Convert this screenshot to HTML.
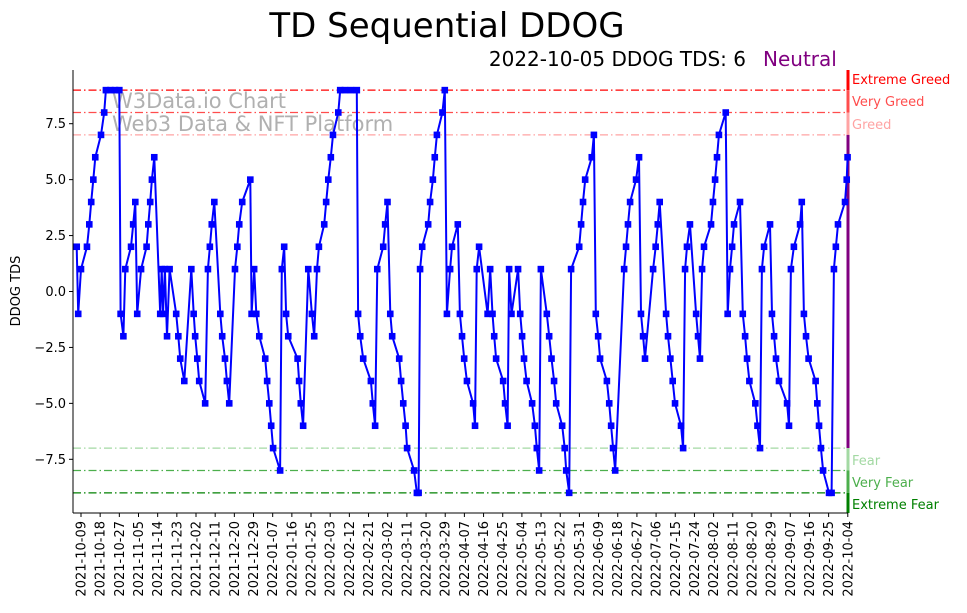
<!DOCTYPE html>
<html><head><meta charset="utf-8">
<style>
html,body{margin:0;padding:0;background:#fff;}
svg{display:block;font-family:"DejaVu Sans","Liberation Sans",sans-serif;}
</style></head>
<body>
<svg id="chart" width="967" height="613" viewBox="0 0 967 613" xmlns="http://www.w3.org/2000/svg">
  <text x="447" y="37" font-size="34" text-anchor="middle" fill="#000">TD Sequential DDOG</text>
  <text x="746" y="66" font-size="20" text-anchor="end" fill="#000">2022-10-05 DDOG TDS: 6</text>
  <text x="763" y="66" font-size="20" fill="#800080">Neutral</text>
  <text x="112" y="108" font-size="21" fill="#b0b0b0">W3Data.io Chart</text>
  <text x="112" y="131" font-size="21" fill="#b0b0b0">Web3 Data &amp; NFT Platform</text>
  <text transform="translate(20,291) rotate(-90)" font-size="13" text-anchor="middle" fill="#000">DDOG TDS</text>
  <g id="levels"></g>
  <g id="series"></g>
  <g id="axes"></g>
</svg>
<script>
const days = [-2.0,-1.3,0,2.8,3.9,4.8,5.8,6.7,9.4,10.9,11.7,13.8,16.0,18.0,18.6,19.9,20.8,23.5,24.5,25.5,26.4,28.2,30.8,31.6,32.5,33.3,34.4,37.2,37.9,38.5,39.4,40.4,41.6,44.7,45.7,46.6,48.5,51.8,52.9,53.6,54.6,55.5,58.3,59.6,60.5,61.4,62.6,65.4,66.3,67.6,68.5,69.6,72.3,73.4,74.3,75.7,79.5,80.1,81.3,82.3,83.7,86.5,87.4,88.4,89.3,90.2,93.5,94.3,95.4,96.3,97.3,101.7,102.4,103.2,104.3,106.7,108.4,109.5,110.8,111.7,114.2,115.1,116.1,117.3,118.3,120.8,121.7,123.9,126.7,129.5,130.1,131.1,132.5,136.1,137.0,138.1,139.1,141.9,142.8,143.9,145.2,146.1,149.4,150.3,151.3,152.4,153.1,156.4,157.7,158.5,159.2,160.2,163.0,163.9,165.2,166.1,167.1,169.7,170.8,171.8,173.3,174.2,176.9,177.9,178.9,179.9,181.2,184.1,185.0,185.8,186.9,190.9,192.1,193.2,194.0,194.9,198.2,199.1,200.3,201.0,202.1,205.2,206.2,207.1,208.0,209.2,211.8,213.1,214.0,215.1,215.9,218.7,219.8,220.9,222.1,223.1,225.9,227.1,227.8,229.2,230.1,233.9,234.8,235.7,236.7,239.8,240.8,241.7,242.8,243.7,246.9,248.0,248.9,249.8,250.8,255.0,255.9,256.8,257.8,260.6,262.0,262.9,263.9,264.8,268.6,269.8,270.8,271.7,274.7,275.6,276.7,277.8,278.9,281.7,282.7,283.6,284.5,285.9,288.8,289.7,290.6,291.6,292.5,295.8,296.7,297.7,298.6,299.5,302.7,303.6,304.7,305.7,306.6,309.4,310.7,311.8,312.7,313.8,316.6,317.6,318.8,319.7,320.7,323.5,324.4,325.4,326.3,327.7,331.5,332.4,333.3,334.7,337.6,338.4,339.4,340.4,341.6,344.9,345.7,346.5,347.4,348.4,351.2,352.4,353.5,354.4,355.4,358.7,359.5,359.9];
const tds = [2,-1,1,2,3,4,5,6,7,8,9,9,9,9,-1,-2,1,2,3,4,-1,1,2,3,4,5,6,-1,1,-1,1,-2,1,-1,-2,-3,-4,1,-1,-2,-3,-4,-5,1,2,3,4,-1,-2,-3,-4,-5,1,2,3,4,5,-1,1,-1,-2,-3,-4,-5,-6,-7,-8,1,2,-1,-2,-3,-4,-5,-6,1,-1,-2,1,2,3,4,5,6,7,8,9,9,9,9,-1,-2,-3,-4,-5,-6,1,2,3,4,-1,-2,-3,-4,-5,-6,-7,-8,-9,-9,1,2,3,4,5,6,7,8,9,-1,1,2,3,-1,-2,-3,-4,-5,-6,1,2,-1,1,-1,-2,-3,-4,-5,-6,1,-1,1,-1,-2,-3,-4,-5,-6,-7,-8,1,-1,-2,-3,-4,-5,-6,-7,-8,-9,1,2,3,4,5,6,7,-1,-2,-3,-4,-5,-6,-7,-8,1,2,3,4,5,6,-1,-2,-3,1,2,3,4,-1,-2,-3,-4,-5,-6,-7,1,2,3,-1,-2,-3,1,2,3,4,5,6,7,8,-1,1,2,3,4,-1,-2,-3,-4,-5,-6,-7,1,2,3,-1,-2,-3,-4,-5,-6,1,2,3,4,-1,-2,-3,-4,-5,-6,-7,-8,-9,-9,1,2,3,4,5,6];
const yTicks = [-7.5,-5.0,-2.5,0.0,2.5,5.0,7.5];
const yTickLabels = ["−7.5","−5.0","−2.5","0.0","2.5","5.0","7.5"];
const xTickLabels = ["2021-10-09","2021-10-18","2021-10-27","2021-11-05","2021-11-14","2021-11-23","2021-12-02","2021-12-11","2021-12-20","2021-12-29","2022-01-07","2022-01-16","2022-01-25","2022-02-03","2022-02-12","2022-02-21","2022-03-02","2022-03-11","2022-03-20","2022-03-29","2022-04-07","2022-04-16","2022-04-25","2022-05-04","2022-05-13","2022-05-22","2022-05-31","2022-06-09","2022-06-18","2022-06-27","2022-07-06","2022-07-15","2022-07-24","2022-08-02","2022-08-11","2022-08-20","2022-08-29","2022-09-07","2022-09-16","2022-09-25","2022-10-04"];
const levelValues = [9,8,7,-7,-8,-9];
const levelNames = ["Extreme Greed","Very Greed","Greed","Fear","Very Fear","Extreme Fear"];
const levelColors = ["#ff0000","#ff4d4d","#ffa3a3","#a3d9a3","#4caf4c","#008000"];

const NS = "http://www.w3.org/2000/svg";
const L = 73, R = 848, T = 70, B = 513;
const dMin = -3.75, dMax = 360.1, vMin = -9.9, vMax = 9.9;
const xs = d => L + (d - dMin) / (dMax - dMin) * (R - L);
const ys = v => B - (v - vMin) / (vMax - vMin) * (B - T);
function mk(tag, attrs, parent){ const e=document.createElementNS(NS,tag); for(const k in attrs) e.setAttribute(k,attrs[k]); parent.appendChild(e); return e; }

const levels = document.getElementById('levels');
levelValues.forEach((v,i)=>{
  const ln = mk('line',{x1:L,x2:R,y1:ys(v),y2:ys(v),stroke:levelColors[i],'stroke-width':1.2,'stroke-dasharray':'8,3,1.5,3'},levels);
  
  
});
// right side zone bar
const zones = [[vMax,9,"#ff0000"],[9,8,"#ff4d4d"],[8,7,"#ffa3a3"],[7,-7,"#800080"],[-7,-8,"#a3d9a3"],[-8,-9,"#4caf4c"],[-9,vMin,"#008000"]];
zones.forEach(z=>{
  const r = mk('rect',{x:R-1.5,y:ys(z[0]),width:3,height:ys(z[1])-ys(z[0]),fill:z[2]},levels);
  
  
});
const labelY = [79,101,124,460,482,504];
levelNames.forEach((n,i)=>{
  const t = mk('text',{x:852,y:labelY[i]+5,'font-size':13,fill:levelColors[i]},levels);
  t.textContent = n;
  
  
});

const series = document.getElementById('series');
const pts = days.map((d,i)=>xs(d).toFixed(1)+','+ys(tds[i]).toFixed(1)).join(' ');
const pl = mk('polyline',{points:pts,fill:'none',stroke:'#0000ff','stroke-width':2,'stroke-linejoin':'round'},series);


days.forEach((d,i)=>{
  const m = mk('rect',{x:xs(d)-3.3,y:ys(tds[i])-3.3,width:6.6,height:6.6,fill:'#0000ff'},series);
  
  
});

const axes = document.getElementById('axes');
const ls = mk('line',{x1:L,x2:L,y1:T,y2:B,stroke:'#000','stroke-width':1},axes);


const bs = mk('line',{x1:L,x2:R,y1:B,y2:B,stroke:'#000','stroke-width':1},axes);


yTicks.forEach((v,i)=>{
  mk('line',{x1:L-4,x2:L,y1:ys(v),y2:ys(v),stroke:'#000'},axes);
  const t = mk('text',{x:L-7,y:ys(v)+4.5,'font-size':13,'text-anchor':'end',fill:'#000'},axes);
  t.textContent = yTickLabels[i];
  
  
});
xTickLabels.forEach((s,i)=>{
  const x = xs(i*9);
  mk('line',{x1:x,x2:x,y1:B,y2:B+4,stroke:'#000'},axes);
  const t = mk('text',{transform:`translate(${x+4.5},${B+8}) rotate(-90)`,'font-size':13,'text-anchor':'end',fill:'#000'},axes);
  t.textContent = s;
  
  
});
</script>
</body></html>
